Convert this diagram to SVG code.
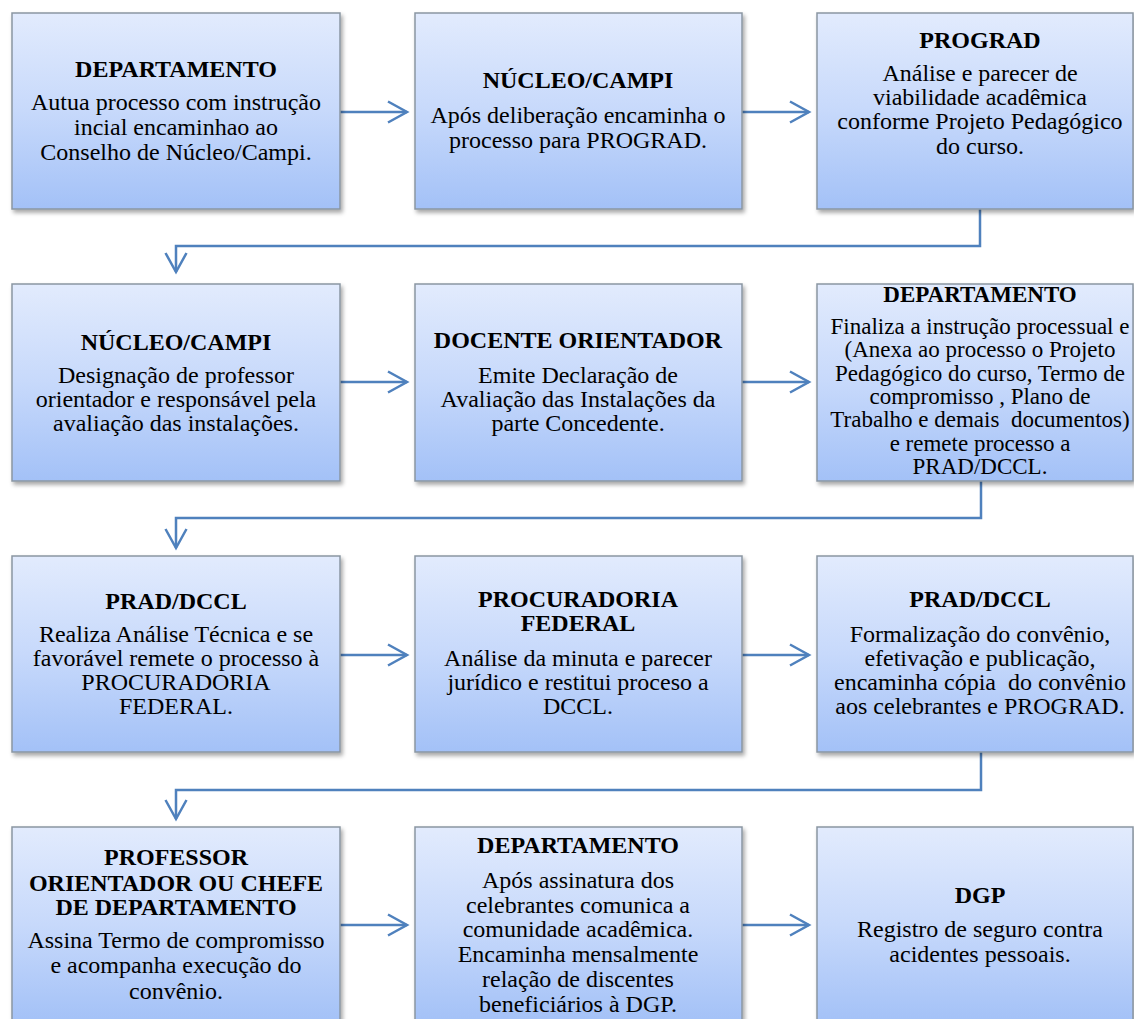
<svg xmlns="http://www.w3.org/2000/svg" width="1134" height="1019" viewBox="0 0 1134 1019">
  <style>
    .box { fill: url(#boxFill); stroke: #8a96a3; stroke-width: 1.5; filter: url(#shadow); }
    text { font-family: "Liberation Serif", "Times New Roman", serif; fill: #000; text-anchor: middle; font-size: 24px; }
    .t { font-weight: bold; }
    .sm { font-size: 23px; }
    .wire { fill: none; stroke: #4f81bd; stroke-width: 2.5; }
  </style>
  <defs>
    <linearGradient id="boxFill" x1="0" y1="0" x2="0" y2="1">
      <stop offset="0" stop-color="#e2ebfd"/>
      <stop offset="0.5" stop-color="#c7d9fb"/>
      <stop offset="1" stop-color="#a3c1f7"/>
    </linearGradient>
    <filter id="shadow" x="-5%" y="-5%" width="112%" height="115%">
      <feDropShadow dx="2" dy="3" stdDeviation="2" flood-color="#000" flood-opacity="0.35"/>
    </filter>
    <marker id="chev" markerUnits="userSpaceOnUse" markerWidth="24" markerHeight="26" refX="20" refY="12" orient="auto">
      <path d="M1,1.5 L20,12 L1,22.5" fill="none" stroke="#4f81bd" stroke-width="2.5"/>
    </marker>
  </defs>
  <rect width="1134" height="1019" fill="#fff"/>

  <!-- connectors -->
  <g id="connectors" class="wire">
    <line x1="340" y1="112" x2="407" y2="112" marker-end="url(#chev)"/>
    <line x1="742" y1="112" x2="809" y2="112" marker-end="url(#chev)"/>
    <polyline points="980,209 980,246 176,246 176,272" marker-end="url(#chev)"/>
    <line x1="340" y1="382" x2="407" y2="382" marker-end="url(#chev)"/>
    <line x1="742" y1="382" x2="809" y2="382" marker-end="url(#chev)"/>
    <polyline points="981,481 981,518 176,518 176,548" marker-end="url(#chev)"/>
    <line x1="340" y1="655" x2="407" y2="655" marker-end="url(#chev)"/>
    <line x1="742" y1="655" x2="809" y2="655" marker-end="url(#chev)"/>
    <polyline points="981,752 981,790 176,790 176,819" marker-end="url(#chev)"/>
    <line x1="340" y1="925" x2="407" y2="925" marker-end="url(#chev)"/>
    <line x1="742" y1="925" x2="809" y2="925" marker-end="url(#chev)"/>
  </g>

  <!-- row 1 -->
  <g id="n1">
    <rect class="box" x="12" y="13" width="328" height="196"/>
    <text class="t" x="176" y="77">DEPARTAMENTO</text>
    <text x="176" y="110">Autua processo com instrução</text>
    <text x="176" y="135">incial encaminhao ao</text>
    <text x="176" y="160">Conselho de Núcleo/Campi.</text>
  </g>
  <g id="n2">
    <rect class="box" x="415" y="13" width="327" height="196"/>
    <text class="t" x="578" y="88">NÚCLEO/CAMPI</text>
    <text x="578" y="123">Após deliberação encaminha o</text>
    <text x="578" y="148">processo para PROGRAD.</text>
  </g>
  <g id="n3">
    <rect class="box" x="817" y="13" width="316" height="196"/>
    <text class="t" x="980" y="48">PROGRAD</text>
    <text x="980" y="81">Análise e parecer de</text>
    <text x="980" y="105">viabilidade acadêmica</text>
    <text x="980" y="129">conforme Projeto Pedagógico</text>
    <text x="980" y="154">do curso.</text>
  </g>

  <!-- row 2 -->
  <g id="n4">
    <rect class="box" x="12" y="284" width="328" height="197"/>
    <text class="t" x="176" y="350">NÚCLEO/CAMPI</text>
    <text x="176" y="383">Designação de professor</text>
    <text x="176" y="407">orientador e responsável pela</text>
    <text x="176" y="431">avaliação das instalações.</text>
  </g>
  <g id="n5">
    <rect class="box" x="415" y="284" width="327" height="197"/>
    <text class="t" x="578" y="348">DOCENTE ORIENTADOR</text>
    <text x="578" y="383">Emite Declaração de</text>
    <text x="578" y="407">Avaliação das Instalações da</text>
    <text x="578" y="431">parte Concedente.</text>
  </g>
  <g id="n6">
    <rect class="box" x="817" y="284" width="316" height="197"/>
    <text class="t sm" x="980" y="302">DEPARTAMENTO</text>
    <text class="sm" x="980" y="334">Finaliza a instrução processual e</text>
    <text class="sm" x="980" y="357">(Anexa ao processo o Projeto</text>
    <text class="sm" x="980" y="381">Pedagógico do curso, Termo de</text>
    <text class="sm" x="980" y="404">compromisso , Plano de</text>
    <text class="sm" x="980" y="427" xml:space="preserve">Trabalho e demais  documentos)</text>
    <text class="sm" x="980" y="451">e remete processo a</text>
    <text class="sm" x="980" y="474">PRAD/DCCL.</text>
  </g>

  <!-- row 3 -->
  <g id="n7">
    <rect class="box" x="12" y="556" width="328" height="196"/>
    <text class="t" x="176" y="609">PRAD/DCCL</text>
    <text x="176" y="642">Realiza Análise Técnica e se</text>
    <text x="176" y="666">favorável remete o processo à</text>
    <text x="176" y="690">PROCURADORIA</text>
    <text x="176" y="714">FEDERAL.</text>
  </g>
  <g id="n8">
    <rect class="box" x="415" y="556" width="327" height="196"/>
    <text class="t" x="578" y="607">PROCURADORIA</text>
    <text class="t" x="578" y="631">FEDERAL</text>
    <text x="578" y="666">Análise da minuta e parecer</text>
    <text x="578" y="690">jurídico e restitui proceso a</text>
    <text x="578" y="714">DCCL.</text>
  </g>
  <g id="n9">
    <rect class="box" x="817" y="556" width="316" height="196"/>
    <text class="t" x="980" y="607">PRAD/DCCL</text>
    <text x="980" y="642">Formalização do convênio,</text>
    <text x="980" y="666">efetivação e publicação,</text>
    <text x="980" y="690" xml:space="preserve">encaminha cópia  do convênio</text>
    <text x="980" y="714">aos celebrantes e PROGRAD.</text>
  </g>

  <!-- row 4 -->
  <g id="n10">
    <rect class="box" x="12" y="827" width="328" height="196"/>
    <text class="t" x="176" y="865">PROFESSOR</text>
    <text class="t" x="176" y="891">ORIENTADOR OU CHEFE</text>
    <text class="t" x="176" y="915">DE DEPARTAMENTO</text>
    <text x="176" y="948">Assina Termo de compromisso</text>
    <text x="176" y="973">e acompanha execução do</text>
    <text x="176" y="999">convênio.</text>
  </g>
  <g id="n11">
    <rect class="box" x="415" y="827" width="327" height="196"/>
    <text class="t" x="578" y="853">DEPARTAMENTO</text>
    <text x="578" y="888">Após assinatura dos</text>
    <text x="578" y="913">celebrantes comunica a</text>
    <text x="578" y="937">comunidade acadêmica.</text>
    <text x="578" y="962">Encaminha mensalmente</text>
    <text x="578" y="987">relação de discentes</text>
    <text x="578" y="1012">beneficiários à DGP.</text>
  </g>
  <g id="n12">
    <rect class="box" x="817" y="827" width="316" height="196"/>
    <text class="t" x="980" y="903">DGP</text>
    <text x="980" y="937">Registro de seguro contra</text>
    <text x="980" y="962">acidentes pessoais.</text>
  </g>
</svg>
